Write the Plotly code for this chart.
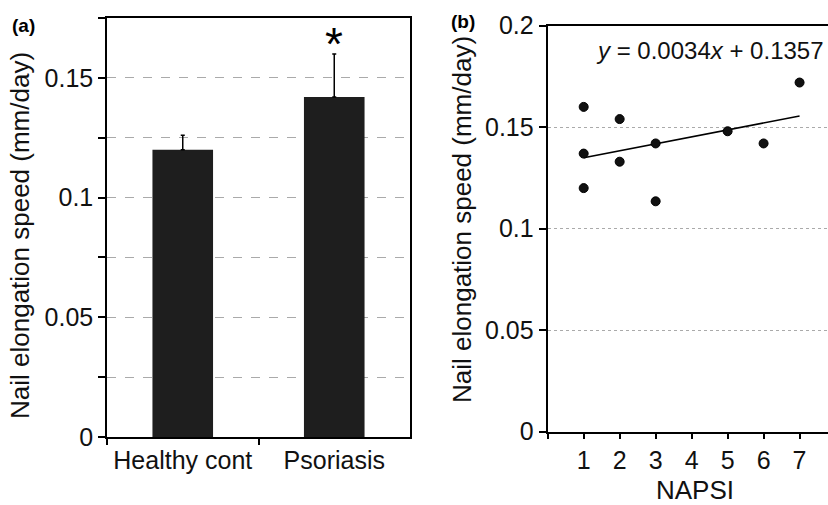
import numpy as np
import plotly.graph_objects as go

# ---- Data ----
groups = ["Healthy cont", "Psoriasis"]
speed_mean = [0.120, 0.142]
speed_err = [0.006, 0.018]

napsi = [1, 1, 1, 2, 2, 3, 3, 5, 6, 7]
speed_pts = [0.160, 0.137, 0.120, 0.154, 0.133, 0.142, 0.1135, 0.148, 0.142, 0.172]

yticks_a = [0, 0.025, 0.05, 0.075, 0.1, 0.125, 0.15, 0.175]
yticktext_a = ["0", "", "0.05", "", "0.1", "", "0.15", ""]
yticks_b = [0, 0.05, 0.1, 0.15, 0.2]
yticktext_b = ["0", "0.05", "0.1", "0.15", "0.2"]
xticks_b = [0, 1, 2, 3, 4, 5, 6, 7]
xticktext_b = ["", "1", "2", "3", "4", "5", "6", "7"]

# trend line from least squares fit
slope, intercept = np.polyfit(napsi, speed_pts, 1)
trend_x = [min(napsi), max(napsi)]
trend_y = [intercept + slope * v for v in trend_x]

FONT = "Liberation Sans, Arial, Helvetica, sans-serif"
TICK = dict(family=FONT, size=25, color="#111")

fig = go.Figure()

fig.add_trace(go.Bar(
    x=groups, y=speed_mean, width=0.4,
    marker=dict(color="#1e1e1e", line=dict(width=0)),
    error_y=dict(type="data", array=speed_err, arrayminus=[0, 0], symmetric=False,
                 color="#000", thickness=1.5, width=2),
    xaxis="x", yaxis="y", showlegend=False,
))

fig.add_trace(go.Scatter(
    x=trend_x, y=trend_y, mode="lines",
    line=dict(color="#000", width=1.6),
    xaxis="x2", yaxis="y2", showlegend=False,
))
fig.add_trace(go.Scatter(
    x=napsi, y=speed_pts, mode="markers",
    marker=dict(color="#111", size=9, line=dict(color="#000", width=1)),
    xaxis="x2", yaxis="y2", showlegend=False,
))

fig.update_layout(
    width=828, height=505,
    margin=dict(l=0, r=0, t=0, b=0, autoexpand=False),
    paper_bgcolor="white", plot_bgcolor="white",
    font=dict(family=FONT, color="#111"),
    xaxis=dict(domain=[107/828, 410/828], anchor="y", type="category", automargin=False,
               showline=True, linecolor="#000", linewidth=1.5, mirror=True,
               ticks="outside", tickson="boundaries", ticklen=6, tickcolor="#000",
               tickwidth=1.5, tickfont=TICK, showgrid=False, zeroline=False),
    yaxis=dict(domain=[1-437/505, 1-18/505], anchor="x", range=[0, 0.175], automargin=False,
               tickvals=yticks_a, ticktext=yticktext_a, tickfont=TICK,
               showline=True, linecolor="#000", linewidth=1.5, mirror=True,
               ticks="outside", ticklen=7, tickcolor="#000", tickwidth=1.5,
               showgrid=True, gridcolor="#aaaaaa", gridwidth=1, griddash="dash",
               zeroline=False),
    xaxis2=dict(domain=[547.7/828, 1.0], anchor="y2", range=[0, 7.79], automargin=False,
                tickvals=xticks_b, ticktext=xticktext_b, tickfont=TICK,
                showline=True, linecolor="#000", linewidth=2, mirror=True,
                ticks="outside", ticklen=5, tickcolor="#000", tickwidth=1.5,
                showgrid=False, zeroline=False),
    yaxis2=dict(domain=[1-431.7/505, 1-25.7/505], anchor="x2", range=[0, 0.2], automargin=False,
                tickvals=yticks_b, ticktext=yticktext_b, tickfont=TICK,
                showline=True, linecolor="#000", linewidth=2, mirror=False,
                ticks="outside", ticklen=7, tickcolor="#000", tickwidth=1.5,
                showgrid=True, gridcolor="#aaaaaa", gridwidth=1, griddash="dot",
                zeroline=False),
)

ann = []
# panel labels
ann.append(dict(text="<b>(a)</b>", x=23/828, y=1-25/505, xref="paper", yref="paper",
                showarrow=False, font=dict(family=FONT, size=19, color="#000"),
                xanchor="center", yanchor="middle"))
ann.append(dict(text="<b>(b)</b>", x=463/828, y=1-21/505, xref="paper", yref="paper",
                showarrow=False, font=dict(family=FONT, size=19, color="#000"),
                xanchor="center", yanchor="middle"))
# y titles
ann.append(dict(text="Nail elongation speed (mm/day)", x=20/828, y=1-236/505,
                xref="paper", yref="paper", textangle=-90, showarrow=False,
                font=dict(family=FONT, size=26, color="#111"),
                xanchor="center", yanchor="middle"))
ann.append(dict(text="Nail elongation speed (mm/day)", x=462/828, y=1-220/505,
                xref="paper", yref="paper", textangle=-90, showarrow=False,
                font=dict(family=FONT, size=26, color="#111"),
                xanchor="center", yanchor="middle"))
# x title b
ann.append(dict(text="NAPSI", x=695/828, y=1-490/505, xref="paper", yref="paper",
                showarrow=False, font=dict(family=FONT, size=26, color="#111"),
                xanchor="center", yanchor="middle"))
# equation
ann.append(dict(text="<i>y</i> = 0.0034<i>x</i> + 0.1357", x=710/828, y=1-51/505,
                xref="paper", yref="paper", showarrow=False,
                font=dict(family=FONT, size=24, color="#111"),
                xanchor="center", yanchor="middle"))
# asterisk
ann.append(dict(text="*", x="Psoriasis", y=0.168, xref="x", yref="y",
                showarrow=False, font=dict(family=FONT, size=46, color="#000"),
                xanchor="center", yanchor="middle", yshift=-9))

fig.update_layout(annotations=ann)
fig.write_html(
    "out.html",
    config={"displayModeBar": False},
    post_script="document.body.style.margin='0';document.body.style.overflow='hidden';",
)
